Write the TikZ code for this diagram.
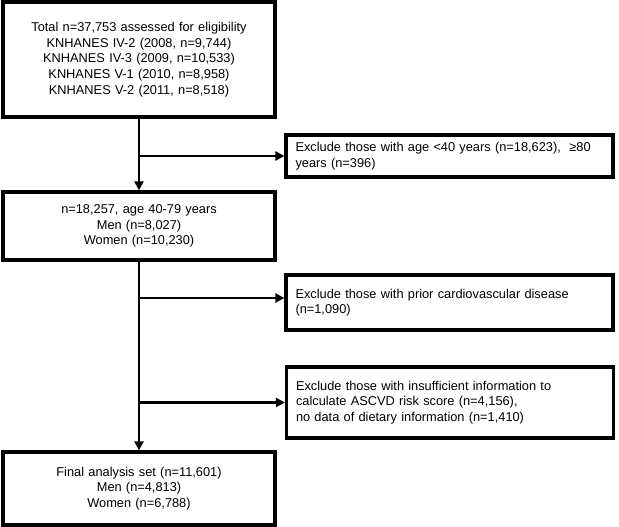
\documentclass[tikz,border=0pt]{standalone}
\usepackage{fontspec}
\setmainfont{Liberation Sans}
\usetikzlibrary{arrows.meta}
\begin{document}
\begin{tikzpicture}[x=1pt,y=-1pt,
  box/.style={draw, line width=3.2pt, rectangle, font=\fontsize{12.8}{15.6}\selectfont},
  mainbox/.style={box, align=center, minimum width=272pt, text width=262pt, inner xsep=5pt},
  exbox/.style={box, align=left, text width=308pt, inner xsep=9.5pt, inner ysep=0pt},
  conn/.style={line width=2.2pt, -{Triangle[length=9pt,width=9pt]}}]
\useasboundingbox (0,0) rectangle (619,527);
\node[mainbox, minimum height=115pt] (b1) at (139,59.5) {Total n=37,753 assessed for eligibility\\KNHANES IV-2 (2008, n=9,744)\\KNHANES IV-3 (2009, n=10,533)\\KNHANES V-1 (2010, n=8,958)\\KNHANES V-2 (2011, n=8,518)};
\node[exbox, minimum height=42pt] (b2) at (449.5,156) {Exclude those with age <40 years (n=18,623), \ ≥80\\years (n=396)};
\node[mainbox, minimum height=68pt] (b3) at (139,226) {n=18,257, age 40-79 years\\Men (n=8,027)\\Women (n=10,230)};
\node[exbox, minimum height=55pt] (b4) at (449.5,302.5) {Exclude those with prior cardiovascular disease\\(n=1,090)};
\node[exbox, minimum height=71pt] (b5) at (450,402.5) {Exclude those with insufficient information to\\calculate ASCVD risk score (n=4,156),\\no data of dietary information (n=1,410)};
\node[mainbox, minimum height=73pt] (b6) at (139,488.5) {Final analysis set (n=11,601)\\Men (n=4,813)\\Women (n=6,788)};
\coordinate (j1) at (b1.south |- b2.west);
\coordinate (j2) at (b3.south |- 0,298);
\coordinate (j3) at (b3.south |- b5.west);
\draw[conn] (b1.south) -- (b3.north);
\draw[conn] (j1) -- (b2.west);
\draw[conn] (b3.south) -- (b6.north);
\draw[conn] (j2) -- (b4.west |- j2);
\draw[conn] (j3) -- (b5.west);
\end{tikzpicture}
\end{document}
